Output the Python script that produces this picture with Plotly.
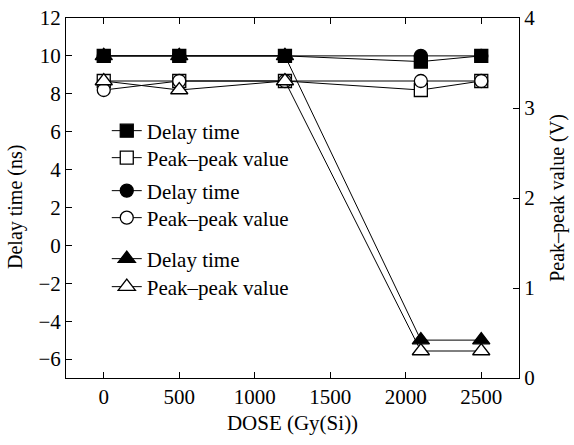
import plotly.graph_objects as go

dose = [0, 500, 1200, 2100, 2500]

# Delay time (ns), left axis
delay_sq = [10, 10, 10, 9.7, 10]
delay_ci = [10, 10, 10, 10, 10]
delay_tr = [10, 10, 10, -5, -5]

# Peak-peak value (V), right axis
peak_sq = [3.3, 3.3, 3.3, 3.2, 3.3]
peak_ci = [3.2, 3.3, 3.3, 3.3, 3.3]
peak_tr = [3.3, 3.2, 3.3, 0.3, 0.3]

labels = ["Delay time", "Peak\u2013peak value"]

FONT = "Times New Roman, Liberation Serif, serif"
TICK = 21
fig = go.Figure()

legend_names = ["legend", "legend2", "legend3", "legend4", "legend5", "legend6"]
legend_y_px = [131, 158, 191, 218, 259, 287]

def add(y, symbol, filled, name, axis, idx):
    fig.add_trace(go.Scatter(
        x=dose, y=y, mode="lines+markers", name=name, yaxis=axis,
        legend=legend_names[idx],
        line=dict(color="black", width=1),
        marker=dict(symbol=symbol, size=13 if symbol != "triangle-up" else 15,
                    color="black" if filled else "white",
                    line=dict(color="black", width=1.3)),
    ))

add(delay_sq, "square", True, labels[0], "y", 0)
add(peak_sq, "square", False, labels[1], "y2", 1)
add(delay_ci, "circle", True, labels[0], "y", 2)
add(peak_ci, "circle", False, labels[1], "y2", 3)
add(delay_tr, "triangle-up", True, labels[0], "y", 4)
add(peak_tr, "triangle-up", False, labels[1], "y2", 5)

W, H, L, R, T, B = 574, 445, 66, 55, 18, 67
plot_w = W - L - R
plot_h = H - T - B
layout_legends = {}
for name, ypx in zip(legend_names, legend_y_px):
    layout_legends[name] = dict(
        x=0.09, y=1 - (ypx - T) / plot_h, xanchor="left", yanchor="middle",
        bgcolor="rgba(0,0,0,0)", font=dict(family=FONT, size=21, color="black"),
        itemsizing="trace", itemwidth=30,
    )

fig.update_layout(
    width=W, height=H,
    margin=dict(l=L, r=R, t=T, b=B, autoexpand=False),
    paper_bgcolor="white", plot_bgcolor="white",
    font=dict(family=FONT, size=TICK, color="black"),
    showlegend=True,
    **layout_legends,
    xaxis=dict(range=[-250, 2750], tickvals=[0, 500, 1000, 1500, 2000, 2500],
               ticks="inside", ticklen=6, tickcolor="black", showgrid=False,
               zeroline=False, showline=True, linecolor="black", linewidth=1,
               mirror="ticks", automargin=False,
               tickfont=dict(family=FONT, size=TICK),
               title=dict(text="DOSE (Gy(Si))", font=dict(family=FONT, size=21), standoff=7)),
    yaxis=dict(range=[-7, 12], tickvals=list(range(-6, 13, 2)),
               ticks="inside", ticklen=6, tickcolor="black", showgrid=False,
               zeroline=False, showline=True, linecolor="black", linewidth=1,
               automargin=False, tickfont=dict(family=FONT, size=TICK)),
    yaxis2=dict(range=[0, 4], tickvals=[0, 1, 2, 3, 4], overlaying="y", side="right",
                ticks="inside", ticklen=6, tickcolor="black", showgrid=False,
                zeroline=False, showline=True, linecolor="black", linewidth=1,
                automargin=False, tickfont=dict(family=FONT, size=TICK),
                title=dict(text="Peak\u2013peak value (V)", font=dict(family=FONT, size=20), standoff=15)),
    annotations=[dict(text="Delay time (ns)", textangle=-90, showarrow=False,
                      xref="paper", yref="paper", x=(15 - L) / plot_w, y=1 - (207 - T) / plot_h,
                      xanchor="center", yanchor="middle",
                      font=dict(family=FONT, size=20, color="black"))],
)

fig.write_html("out.html", post_script="document.body.style.margin='0';",
               config={"displayModeBar": False})
